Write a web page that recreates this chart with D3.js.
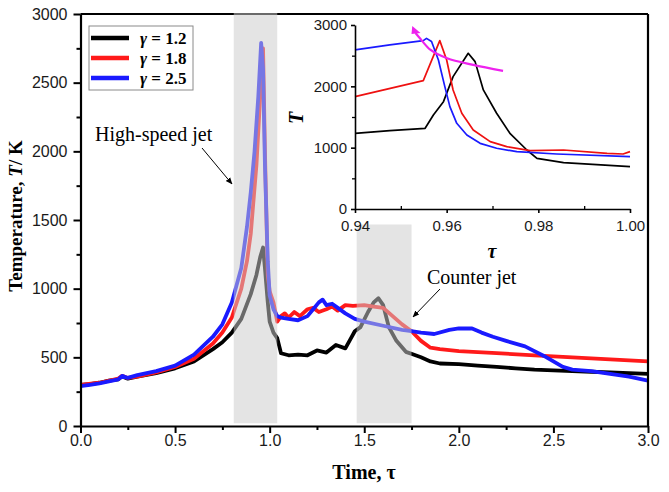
<!DOCTYPE html>
<html><head><meta charset="utf-8">
<script src="https://cdn.jsdelivr.net/npm/d3@7/dist/d3.min.js"></script>
<style>body{margin:0;background:#fff}svg{display:block}</style>
</head><body>
<svg id="c" width="669" height="492"></svg>
<script>
// ---------- DATA ----------
const seriesNames = ["1.2", "1.8", "2.5"];
const seriesColors = ["#000000", "#ff1a1a", "#1a1aff"];

// main chart (time tau, temperature K)
const timeBlack = [0,0.05,0.1,0.15,0.2,0.22,0.25,0.3,0.4,0.5,0.6,0.7,0.75,0.8,0.85,0.9,0.93,0.95,0.965,0.975,0.99,1.0,1.02,1.04,1.06,1.1,1.15,1.2,1.25,1.3,1.35,1.4,1.43,1.45,1.48,1.52,1.55,1.575,1.6,1.63,1.67,1.72,1.76,1.8,1.85,1.9,2.0,2.1,2.2,2.3,2.4,2.5,2.6,2.7,2.8,2.9,3.0];
const tempBlack = [300,305,315,330,340,360,345,360,385,420,470,560,610,680,780,960,1100,1230,1300,1150,900,760,680,640,530,515,520,515,550,535,590,565,640,690,720,830,900,930,880,720,620,540,520,500,470,455,450,440,430,420,410,405,400,395,390,385,380];

const timeRed = [0,0.1,0.2,0.22,0.25,0.3,0.4,0.5,0.6,0.7,0.75,0.8,0.85,0.88,0.9,0.93,0.95,0.96,0.965,0.975,0.99,1.0,1.02,1.04,1.06,1.08,1.1,1.13,1.16,1.2,1.23,1.26,1.3,1.33,1.36,1.4,1.44,1.5,1.55,1.6,1.65,1.7,1.75,1.8,1.85,1.9,2.0,2.2,2.4,2.6,2.8,3.0];
const tempRed = [300,315,345,365,350,360,390,430,490,600,680,790,1000,1200,1400,1900,2400,2700,2750,2000,1100,980,900,760,800,820,790,830,800,850,860,830,850,870,840,880,875,880,870,860,800,740,690,620,570,560,545,530,515,500,485,470];

const timeBlue = [0,0.05,0.1,0.2,0.22,0.25,0.3,0.4,0.5,0.6,0.7,0.75,0.8,0.85,0.88,0.9,0.92,0.94,0.955,0.965,0.975,0.99,1.0,1.02,1.04,1.06,1.1,1.15,1.2,1.23,1.26,1.28,1.3,1.33,1.36,1.4,1.45,1.5,1.6,1.7,1.75,1.8,1.87,1.95,2.0,2.07,2.12,2.18,2.25,2.35,2.45,2.55,2.6,2.7,2.8,2.9,3.0];
const tempBlue = [290,300,310,340,365,350,370,400,440,520,650,740,900,1150,1450,1700,2000,2400,2790,2600,1900,1200,950,850,800,790,780,770,800,850,900,920,880,890,860,820,780,760,730,700,690,680,670,700,710,710,680,650,620,580,510,430,410,400,380,360,330];

// inset (tau 0.94 - 1.00)
const insetTimeBlack = [0.94,0.9476,0.9553,0.9571,0.9593,0.9614,0.9647,0.9662,0.968,0.9709,0.9738,0.9775,0.9797,0.9855,1.0];
const insetTempBlack = [1234,1277,1316,1533,1750,2158,2539,2403,1941,1561,1234,962,826,755,690];
const insetTimeRed = [0.94,0.9549,0.9585,0.96,0.9614,0.9633,0.9658,0.9695,0.9731,0.9782,0.9855,0.995,0.9985,1.0];
const insetTempRed = [1832,2093,2745,2430,1941,1561,1289,1098,1016,951,962,908,897,935];
const insetTimeBlue = [0.94,0.9476,0.9549,0.9556,0.9567,0.9582,0.9596,0.9607,0.9622,0.9644,0.9673,0.9709,0.9753,0.984,1.0];
const insetTempBlue = [2593,2675,2745,2782,2730,2430,1995,1669,1397,1207,1071,990,935,897,853];
const arrowTime = [0.9723,0.9658,0.9601,0.9565,0.9543,0.9532];
const arrowTemp = [2251,2349,2457,2593,2772,2870];
const arrowTip = [0.9525, 2985];

// shaded regions [start, end, top]
const shadeStart = [0.81, 1.46];
const shadeEnd = [1.04, 1.75];
const shadeTop = [3000, 1460];

const xTicks = [0,0.5,1.0,1.5,2.0,2.5,3.0];
const yTicks = [0,500,1000,1500,2000,2500,3000];
const insetXTicks = [0.94,0.96,0.98,1.00];
const insetYTicks = [0,1000,2000,3000];

// ---------- DRAW ----------
const svg = d3.select("#c");
const defs = svg.append("defs");
defs.append("marker").attr("id","ah").attr("viewBox","0 0 10 10").attr("refX",9).attr("refY",5)
  .attr("markerWidth",7).attr("markerHeight",7).attr("orient","auto-start-reverse")
  .append("path").attr("d","M0,1 L10,5 L0,9 z").attr("fill","#000");

const x = d3.scaleLinear().domain([0,3]).range([80.5,648]);
const y = d3.scaleLinear().domain([0,3000]).range([426,14]);

const main = [
  {t: timeBlack, v: tempBlack},
  {t: timeRed, v: tempRed},
  {t: timeBlue, v: tempBlue}
];
const line = d3.line().x(d=>x(d[0])).y(d=>y(d[1]));
main.forEach((s,i)=>{
  svg.append("path").datum(s.t.map((t,j)=>[t,s.v[j]]))
    .attr("d",line).attr("fill","none").attr("stroke",seriesColors[i])
    .attr("stroke-width",3.8).attr("stroke-linejoin","round");
});

// axes
const axisFont = "'Liberation Sans', Arial, sans-serif";
function styleAxis(g, size){
  g.selectAll("path,line").attr("stroke","#000");
  g.selectAll("text").attr("font-family",axisFont).attr("font-size",size).attr("fill","#1a1a1a");
}
const gx = svg.append("g").attr("transform","translate(0,426)")
  .call(d3.axisBottom(x).tickValues(xTicks).tickFormat(d3.format(".1f")).tickSize(7).tickPadding(2).tickSizeOuter(0));
gx.select(".domain").attr("stroke-width",2.2);
gx.selectAll(".tick line").attr("stroke-width",2);
styleAxis(gx,16);
svg.append("g").attr("transform","translate(0,426)")
  .call(d3.axisBottom(x).tickValues([0.25,0.75,1.25,1.75,2.25,2.75]).tickFormat("").tickSize(4).tickSizeOuter(0))
  .call(g=>{g.select(".domain").remove(); g.selectAll("line").attr("stroke","#000").attr("stroke-width",2);});

const gy = svg.append("g").attr("transform","translate(80.5,0)")
  .call(d3.axisLeft(y).tickValues(yTicks).tickFormat(d3.format("d")).tickSize(7).tickPadding(6).tickSizeOuter(0));
gy.select(".domain").attr("stroke-width",2.2);
gy.selectAll(".tick line").attr("stroke-width",2);
styleAxis(gy,16);
svg.append("g").attr("transform","translate(80.5,0)")
  .call(d3.axisLeft(y).tickValues([250,750,1250,1750,2250,2750]).tickFormat("").tickSize(4).tickSizeOuter(0))
  .call(g=>{g.select(".domain").remove(); g.selectAll("line").attr("stroke","#000").attr("stroke-width",2);});

// frame top/right
svg.append("line").attr("x1",x(0)).attr("x2",x(3)).attr("y1",y(3000)).attr("y2",y(3000)).attr("stroke","#000").attr("stroke-width",2.2);
svg.append("line").attr("x1",x(3)).attr("x2",x(3)).attr("y1",y(3000)).attr("y2",y(0)).attr("stroke","#000").attr("stroke-width",2.2);

// shading (semi-transparent over lines)
shadeStart.forEach((s,i)=>{
  svg.append("rect").attr("x",x(s)).attr("width",x(shadeEnd[i])-x(s))
    .attr("y",y(shadeTop[i])-1).attr("height",y(20)-y(shadeTop[i])+1)
    .attr("fill","#cbcbcb").attr("opacity",0.52);
});

// axis titles
const serif = "'Liberation Serif','Times New Roman',serif";
const yt = svg.append("text").attr("transform","translate(22,216) rotate(-90)")
  .attr("text-anchor","middle").attr("font-family",serif).attr("font-weight","bold").attr("font-size",19);
yt.append("tspan").text("Temperature, ");
yt.append("tspan").attr("font-style","italic").text("T");
yt.append("tspan").text("/ K");
svg.append("text").attr("x",364).attr("y",479).attr("text-anchor","middle")
  .attr("font-family",serif).attr("font-weight","bold").attr("font-size",20).text("Time, τ");

// legend
svg.append("rect").attr("x",89).attr("y",26).attr("width",104).attr("height",64)
  .attr("fill","#fff").attr("stroke","#8a8a8a").attr("stroke-width",1);
seriesNames.forEach((n,i)=>{
  const ly = 38 + i*20;
  svg.append("line").attr("x1",91).attr("x2",129).attr("y1",ly).attr("y2",ly)
    .attr("stroke",seriesColors[i]).attr("stroke-width",4.5);
  const t = svg.append("text").attr("x",140).attr("y",ly+6)
    .attr("font-family",serif).attr("font-weight","bold").attr("font-size",17);
  t.append("tspan").attr("font-style","italic").text("γ");
  t.append("tspan").text(" = " + n);
});

// annotations
svg.append("text").attr("x",95).attr("y",141).attr("font-family",serif).attr("font-size",20).text("High-speed jet");
svg.append("line").attr("x1",202).attr("y1",148).attr("x2",232).attr("y2",184)
  .attr("stroke","#000").attr("stroke-width",1).attr("marker-end","url(#ah)");
svg.append("text").attr("x",427).attr("y",284).attr("font-family",serif).attr("font-size",20).text("Counter jet");
svg.append("line").attr("x1",440).attr("y1",289).attr("x2",413).attr("y2",317)
  .attr("stroke","#000").attr("stroke-width",1).attr("marker-end","url(#ah)");

// ---------- INSET ----------
const xi = d3.scaleLinear().domain([0.94,1.0]).range([355,630]);
const yi = d3.scaleLinear().domain([0,3000]).range([209,25]);
const li = d3.line().x(d=>xi(d[0])).y(d=>yi(d[1]));
const inset = [
  {t: insetTimeBlack, v: insetTempBlack},
  {t: insetTimeRed, v: insetTempRed},
  {t: insetTimeBlue, v: insetTempBlue}
];
inset.forEach((s,i)=>{
  svg.append("path").datum(s.t.map((t,j)=>[t,s.v[j]]))
    .attr("d",li).attr("fill","none").attr("stroke",seriesColors[i]===("#ff1a1a")?"#ee1111":seriesColors[i])
    .attr("stroke-width",1.7).attr("stroke-linejoin","round");
});
// magenta arrow
const arrowPts = arrowTime.map((t,j)=>[t,arrowTemp[j]]);
svg.append("path").datum(arrowPts).attr("d",d3.line().x(d=>xi(d[0])).y(d=>yi(d[1])).curve(d3.curveCatmullRom))
  .attr("fill","none").attr("stroke","#ee22ee").attr("stroke-width",2.2);
const last = arrowPts[arrowPts.length-1];
svg.append("path").attr("d",
  `M${xi(arrowTip[0])},${yi(arrowTip[1])} L${xi(last[0])+5},${yi(last[1])} L${xi(last[0])-4},${yi(last[1])+1} Z`)
  .attr("fill","#ee22ee");

const gxi = svg.append("g").attr("transform","translate(0,209)")
  .call(d3.axisBottom(xi).tickValues(insetXTicks).tickFormat(d3.format(".2f")).tickSize(4).tickPadding(7).tickSizeOuter(0));
gxi.selectAll("path,line").attr("stroke-width",1.6);
styleAxis(gxi,15);
svg.append("g").attr("transform","translate(0,209)")
  .call(d3.axisBottom(xi).tickValues([0.95,0.97,0.99]).tickFormat("").tickSize(-3).tickSizeOuter(0))
  .call(g=>{g.select(".domain").remove(); g.selectAll("line").attr("stroke","#000").attr("stroke-width",1.3);});
const gyi = svg.append("g").attr("transform","translate(355,0)")
  .call(d3.axisLeft(yi).tickValues(insetYTicks).tickFormat(d3.format("d")).tickSize(4).tickPadding(4).tickSizeOuter(0));
gyi.selectAll("path,line").attr("stroke-width",1.6);
styleAxis(gyi,15);
svg.append("g").attr("transform","translate(355,0)")
  .call(d3.axisLeft(yi).tickValues([500,1500,2500]).tickFormat("").tickSize(3).tickSizeOuter(0))
  .call(g=>{g.select(".domain").remove(); g.selectAll("line").attr("stroke","#000").attr("stroke-width",1.3);});

svg.append("text").attr("transform","translate(303,118) rotate(-90)").attr("text-anchor","middle")
  .attr("font-family",serif).attr("font-weight","bold").attr("font-style","italic").attr("font-size",20).text("T");
svg.append("text").attr("x",492).attr("y",258).attr("text-anchor","middle")
  .attr("font-family",serif).attr("font-weight","bold").attr("font-style","italic").attr("font-size",20).text("τ");
</script>
</body></html>
